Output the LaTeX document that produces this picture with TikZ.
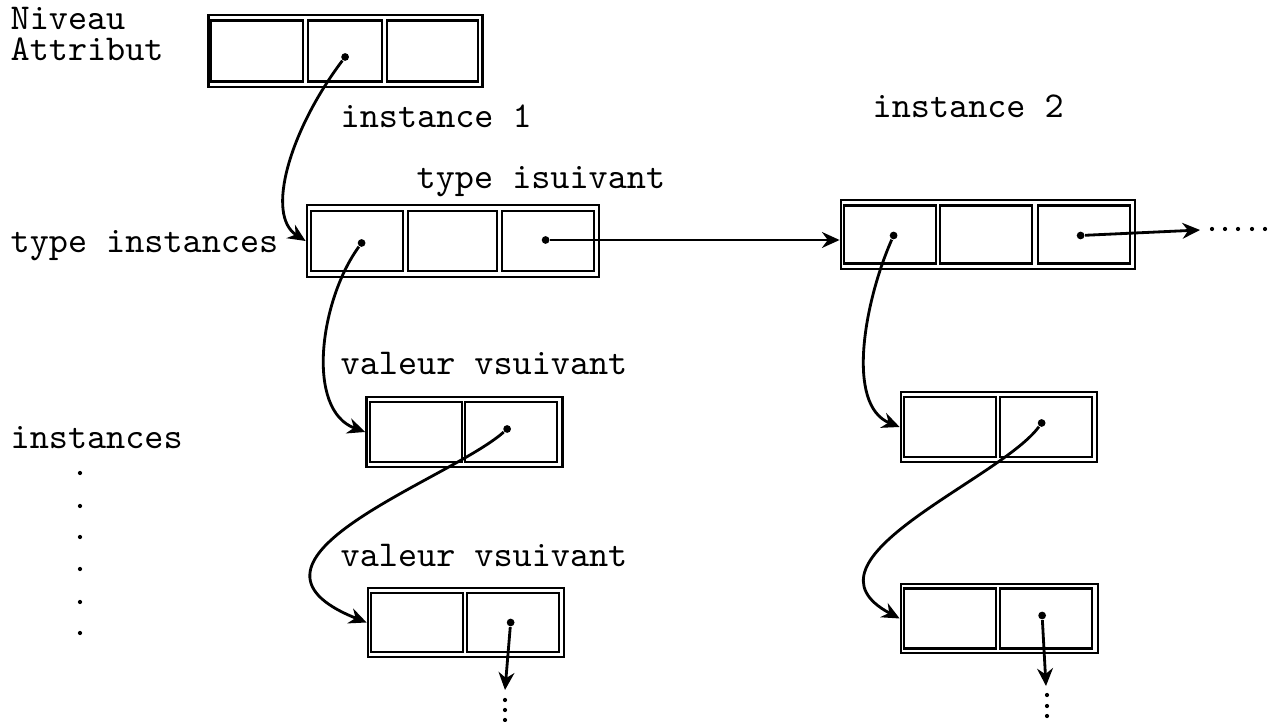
\documentclass[tikz,border=0pt]{standalone}
\usepackage{fontspec}
\usetikzlibrary{arrows.meta, calc}
\tikzset{
    my-record/.style={
        draw, line width=0.75pt, inner sep=0pt
    },
    my-cell/.style={
        draw, line width=0.6pt, inner sep=0pt, minimum width=0.92cm, minimum height=0.60cm
    },
    my-branch/.style={
        fill, shape=circle, minimum size=2.2pt, inner sep=0pt
    },
    my-dot/.style={
        fill, shape=circle, minimum size=1.2pt, inner sep=0pt
    },
    my-label/.style={
        anchor=base west, inner sep=0pt, font=\ttfamily\fontsize{10.35}{12}\selectfont
    },
    my-pointer/.style={
        line width=0.8pt, -{Stealth[length=5pt, width=4.5pt]}
    },
}

\begin{document}
\begin{tikzpicture}[x=0.01cm, y=-0.01cm]

        \useasboundingbox (0,0) rectangle (1273,722);

        % LABELS
        \node[my-label] (NIVEAU)  at (10, 30)   {Niveau};
        \node[my-label] (ATTRIB)  at (10, 61)   {Attribut};
        \node[my-label] (INST1)   at (340, 128) {instance 1};
        \node[my-label] (INST2)   at (872, 118) {instance 2};
        \node[my-label] (TISUIV)  at (416, 189) {type isuivant};
        \node[my-label] (TINST)   at (10, 253)  {type instances};
        \node[my-label] (VSUIV1)  at (340, 375) {valeur vsuivant};
        \node[my-label] (INSTS)   at (10, 449)  {instances};
        \node[my-label] (VSUIV2)  at (340, 567) {valeur vsuivant};

        % ATTRIBUT RECORD
        \node[my-record, minimum width=2.74cm, minimum height=0.72cm] (ATTR) at (345.5, 51) {};
        \node[my-cell, minimum width=0.92cm, minimum height=0.61cm] (ATTR1) at ($(ATTR.west) + (50, 0)$)  {};
        \node[my-cell, minimum width=0.74cm, minimum height=0.61cm] (ATTR2) at ($(ATTR.west) + (138, 0)$) {};
        \node[my-cell, minimum width=0.91cm, minimum height=0.61cm] (ATTR3) at ($(ATTR.west) + (225, 0)$) {};
        \node[my-branch] (ATTR2P) at ($(ATTR2) + (0, 6)$) {};

        % TYPE INSTANCES RECORD, INSTANCE 1
        \node[my-record, minimum width=2.92cm, minimum height=0.72cm] (TI1) at (453, 241) {};
        \node[my-cell] (TI1A) at ($(TI1.west) + (51, 0)$)  {};
        \node[my-cell, minimum width=0.89cm] (TI1B) at ($(TI1.west) + (146.5, 0)$) {};
        \node[my-cell] (TI1C) at ($(TI1.west) + (242, 0)$) {};
        \node[my-branch] (TI1AP) at ($(TI1A) + (5, 2)$) {};
        \node[my-branch] (TI1CP) at ($(TI1C) + (-2, -1)$) {};

        % TYPE INSTANCES RECORD, INSTANCE 2
        \node[my-record, minimum width=2.94cm, minimum height=0.69cm] (TI2) at (988, 234.5) {};
        \node[my-cell, minimum height=0.58cm] (TI2A) at ($(TI2.west) + (50, 0)$)  {};
        \node[my-cell, minimum height=0.58cm] (TI2B) at ($(TI2.west) + (146.5, 0)$) {};
        \node[my-cell, minimum height=0.58cm] (TI2C) at ($(TI2.west) + (244, 0)$) {};
        \node[my-branch] (TI2AP) at ($(TI2A) + (4, 1)$) {};
        \node[my-branch] (TI2CP) at ($(TI2C) + (-3, 1)$) {};
        \coordinate (TI2NEXT) at (1200, 230);

        % VALEUR RECORDS, INSTANCE 1
        \node[my-record, minimum width=1.96cm, minimum height=0.70cm] (V11) at (464.5, 432) {};
        \node[my-cell] (V11A) at ($(V11.west) + (51, 0)$)  {};
        \node[my-cell] (V11B) at ($(V11.west) + (146, 0)$) {};
        \node[my-branch] (V11BP) at ($(V11B) + (-4, -3)$) {};

        \node[my-record, minimum width=1.96cm, minimum height=0.69cm] (V12) at (466, 622.5) {};
        \node[my-cell, minimum height=0.59cm] (V12A) at ($(V12.west) + (50.5, 0)$)  {};
        \node[my-cell, minimum height=0.59cm] (V12B) at ($(V12.west) + (146, 0)$) {};
        \node[my-branch] (V12BP) at ($(V12B) + (-2, 0)$) {};
        \coordinate (V12NEXT) at (505, 690);

        % VALEUR RECORDS, INSTANCE 2
        \node[my-record, minimum width=1.96cm, minimum height=0.70cm] (V21) at (999, 427) {};
        \node[my-cell] (V21A) at ($(V21.west) + (50, 0)$)  {};
        \node[my-cell] (V21B) at ($(V21.west) + (146, 0)$) {};
        \node[my-branch] (V21BP) at ($(V21B) + (-4, -4)$) {};

        \node[my-record, minimum width=1.97cm, minimum height=0.69cm] (V22) at (999.5, 618.5) {};
        \node[my-cell, minimum height=0.60cm] (V22A) at ($(V22.west) + (50, 0)$)  {};
        \node[my-cell, minimum height=0.60cm] (V22B) at ($(V22.west) + (146.5, 0)$) {};
        \node[my-branch] (V22BP) at ($(V22B) + (-4, -3)$) {};
        \coordinate (V22NEXT) at (1046, 686);

        % POINTERS
        \draw[my-pointer] (ATTR2P) .. controls (290, 130) and (265, 215) .. (TI1.west);
        \draw[my-pointer] (TI1AP) .. controls (320, 300) and (305, 410) .. (V11.west);
        \draw[my-pointer] (TI1CP) -- (TI1CP -| TI2.west);
        \draw[my-pointer] (TI2AP) .. controls (865, 300) and (845, 405) .. (V21.west);
        \draw[my-pointer] (TI2CP) -- (TI2NEXT);
        \draw[my-pointer] (V11BP) .. controls (450, 480) and (210, 560) .. (V12.west);
        \draw[my-pointer] (V21BP) .. controls (1000, 480) and (790, 560) .. (V22.west);
        \draw[my-pointer] (V12BP) -- (V12NEXT);
        \draw[my-pointer] (V22BP) -- (V22NEXT);

        % DOTS
        \node[my-dot] (D1) at (1212, 229) {};
        \node[my-dot] (D2) at (1225, 229) {};
        \node[my-dot] (D3) at (1238, 229) {};
        \node[my-dot] (D4) at (1252, 229) {};
        \node[my-dot] (D5) at (1265, 229) {};

        \node[my-dot] (L1) at (80, 473) {};
        \node[my-dot] (L2) at (80, 506) {};
        \node[my-dot] (L3) at (80, 537) {};
        \node[my-dot] (L4) at (80, 569) {};
        \node[my-dot] (L5) at (80, 602) {};
        \node[my-dot] (L6) at (80, 633) {};

        \node[my-dot] (E1) at (505, 700) {};
        \node[my-dot] (E2) at (505, 710) {};
        \node[my-dot] (E3) at (505, 720) {};

        \node[my-dot] (F1) at (1047, 695) {};
        \node[my-dot] (F2) at (1047, 706) {};
        \node[my-dot] (F3) at (1047, 716) {};

    \end{tikzpicture}
\end{document}
